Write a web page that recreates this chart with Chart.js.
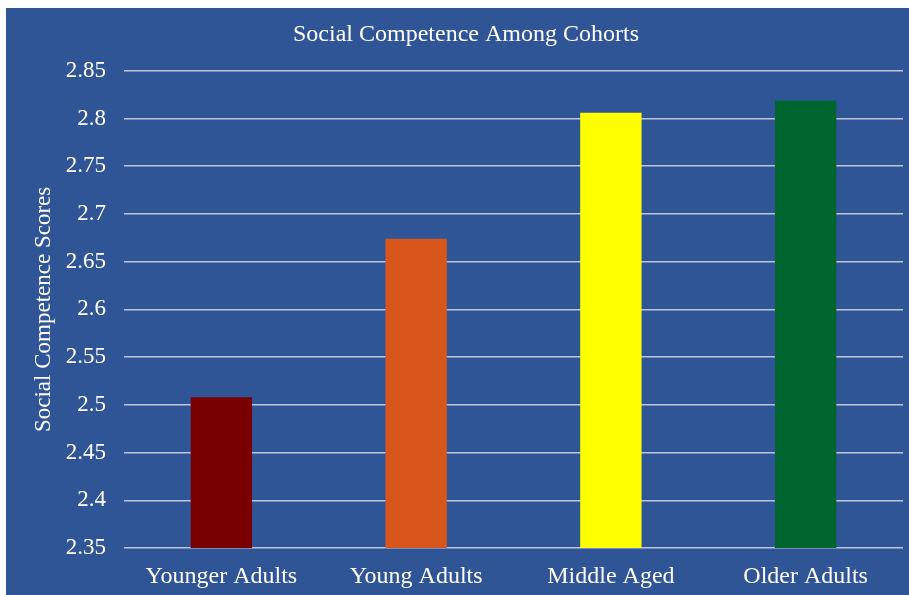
<!DOCTYPE html>
<html>
<head>
<meta charset="utf-8">
<script src="https://cdn.jsdelivr.net/npm/chart.js@4/dist/chart.umd.min.js"></script>
<style>
  html, body { margin: 0; padding: 0; background: #ffffff; }
  #wrap {
    position: absolute;
    left: 6px;
    top: 8px;
    width: 903px;
    height: 587px;
    background: #2F5597;
  }
</style>
</head>
<body>
<div id="wrap"><canvas id="barChart"></canvas></div>
<script>
// Cohort labels and mean scores
var cohorts = ['Younger Adults', 'Young Adults', 'Middle Aged', 'Older Adults'];
var scores = [2.508, 2.674, 2.806, 2.819];
var barColors = ['#780000', '#D8561B', '#FFFF00', '#00652F'];

var serif = '"Liberation Serif", "Times New Roman", serif';

var ctx = document.getElementById('barChart').getContext('2d');

var barChart = new Chart(ctx, {
  type: 'bar',
  data: {
    labels: cohorts,
    datasets: [
      {
        label: 'Social Competence Scores',
        data: scores,
        backgroundColor: barColors,
        borderWidth: 0,
        barPercentage: 0.315,
        categoryPercentage: 1
      }
    ]
  },
  options: {
    responsive: true,
    maintainAspectRatio: false,
    animation: false,
    layout: {
      padding: { top: 0, right: 6, bottom: 0, left: 23 }
    },
    plugins: {
      legend: { display: false },
      tooltip: { enabled: false },
      title: {
        display: true,
        text: 'Social Competence Among Cohorts',
        color: '#ffffff',
        font: { family: serif, size: 24, weight: 'normal' },
        padding: { top: 12, bottom: 22 }
      }
    },
    scales: {
      x: {
        grid: { display: false, drawTicks: false },
        border: { display: false },
        ticks: {
          color: '#ffffff',
          font: { family: serif, size: 24 },
          padding: 14,
          maxRotation: 0
        },
        afterFit: function (scale) { scale.height = 47; }
      },
      y: {
        min: 2.35,
        max: 2.85,
        grid: { color: '#BCC5DA', lineWidth: 1.5, drawTicks: false },
        border: { display: false },
        ticks: {
          stepSize: 0.05,
          color: '#ffffff',
          font: { family: serif, size: 23 },
          padding: 18,
          callback: function (v) { return parseFloat(v.toFixed(2)).toString(); }
        },
        title: {
          display: true,
          text: 'Social Competence Scores',
          color: '#ffffff',
          font: { family: serif, size: 23, weight: 'normal' },
          padding: { top: 1, bottom: 0 }
        },
        afterFit: function (scale) { scale.width = 95; }
      }
    }
  }
});
</script>
</body>
</html>
